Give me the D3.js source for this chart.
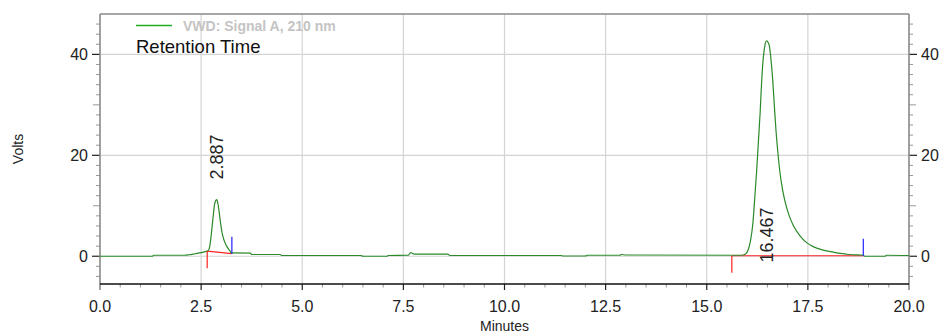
<!DOCTYPE html>
<html><head><meta charset="utf-8">
<script src="https://cdn.jsdelivr.net/npm/d3@7"></script>
<style>
html,body{margin:0;padding:0;background:#fff;}
svg{display:block;font-family:Arial,"Liberation Sans",sans-serif;}
</style></head>
<body><svg id="c" width="942" height="333"></svg>
<script>
// ---- data ----
const times = [0.0,1.3,1.32,2.1,2.2,2.35,2.5,2.62,2.66,2.70,2.74,2.79,2.84,2.887,2.92,2.95,2.98,3.01,3.05,3.09,3.13,3.18,3.22,3.26,3.3,3.72,3.75,4.45,4.5,6.45,6.5,7.1,7.12,7.62,7.68,7.72,7.78,8.6,8.65,11.4,11.45,12.0,12.05,12.85,12.9,13.0,15.85,15.95,16.02,16.08,16.14,16.19,16.23,16.27,16.32,16.36,16.40,16.44,16.48,16.52,16.55,16.59,16.63,16.67,16.71,16.76,16.81,16.87,16.93,17.03,17.14,17.3,17.47,17.6,17.72,17.9,18.13,18.3,18.46,18.6,18.87,18.9,19.4,19.45,20.0];
const volts = [0.0,0.0,0.2,0.2,0.3,0.5,0.7,0.95,1.05,1.5,3.5,7.3,10.6,11.2,10.2,8.5,6.6,5.0,3.6,2.7,2.0,1.4,0.95,0.6,0.65,0.6,0.35,0.35,0.15,0.15,0.0,0.0,0.15,0.2,0.7,0.6,0.4,0.4,0.15,0.15,0.05,0.05,0.2,0.2,0.35,0.25,0.2,0.4,1.2,3.0,6.5,11.9,16.5,21.8,28.5,35.0,39.5,41.9,42.7,42.3,41.6,38.8,35.0,30.0,25.1,20.4,16.6,13.4,11.0,8.2,6.1,4.1,2.7,2.05,1.6,1.15,0.8,0.55,0.4,0.3,0.2,0.0,0.0,0.2,0.15];
const peakTimes = [2.887, 16.467];
const peakLabels = ["2.887", "16.467"];
const peakLabelVolts = [15.2, -1.25];
const baseStartT = [2.65, 15.62];
const baseStartV = [1.0, 0.1];
const baseEndT = [3.26, 18.87];
const baseEndV = [0.5, 0.1];
const xTicks = [0.0,2.5,5.0,7.5,10.0,12.5,15.0,17.5,20.0];
const yTicks = [0,20,40];
const seriesName = "VWD: Signal A, 210 nm";

// ---- layout ----
const svg = d3.select("#c");
const L=100, R=909, T=14, B=284;
const x = d3.scaleLinear().domain([0,20]).range([L,R]);
const y = d3.scaleLinear().domain([-5.5,48]).range([B,T]);

// grid
const g = svg.append("g");
g.selectAll("line.vg").data(xTicks.filter(d=>d>0&&d<20)).join("line")
  .attr("x1",d=>x(d)).attr("x2",d=>x(d)).attr("y1",T).attr("y2",B)
  .attr("stroke","#d4d4d4").attr("stroke-width",1.2);
g.selectAll("line.hg").data(yTicks).join("line")
  .attr("x1",L).attr("x2",R).attr("y1",d=>y(d)).attr("y2",d=>y(d))
  .attr("stroke","#d4d4d4").attr("stroke-width",1.2);

// y minor ticks
const yMinor = d3.range(-4,48,2).filter(v=>yTicks.indexOf(v)<0);
[[L,-1],[R,1]].forEach(([ax,dir])=>{
  svg.selectAll(null).data(yMinor).join("line")
    .attr("x1",ax).attr("x2",d=>ax+dir*(d%10===0?7:4))
    .attr("y1",d=>y(d)).attr("y2",d=>y(d))
    .attr("stroke","#999").attr("stroke-width",1);
  svg.selectAll(null).data(yTicks).join("line")
    .attr("x1",ax).attr("x2",ax+dir*8)
    .attr("y1",d=>y(d)).attr("y2",d=>y(d))
    .attr("stroke","#222").attr("stroke-width",1.2);
});
// frame
svg.append("line").attr("x1",L).attr("x2",R).attr("y1",T).attr("y2",T).attr("stroke","#8a8a8a").attr("stroke-width",1.6);
svg.append("line").attr("x1",L).attr("x2",L).attr("y1",T).attr("y2",B+6).attr("stroke","#8a8a8a").attr("stroke-width",1.6);
svg.append("line").attr("x1",R).attr("x2",R).attr("y1",T).attr("y2",B+6).attr("stroke","#8a8a8a").attr("stroke-width",1.6);

// x minor ticks
const xMinor = d3.range(0,20.01,0.5).filter(v=>Math.abs(v/2.5-Math.round(v/2.5))>1e-6);
svg.selectAll(null).data(xMinor).join("line")
  .attr("x1",d=>x(d)).attr("x2",d=>x(d)).attr("y1",B).attr("y2",B+3.5)
  .attr("stroke","#999").attr("stroke-width",1);
svg.selectAll(null).data(xTicks.filter(d=>d>0&&d<20)).join("line")
  .attr("x1",d=>x(d)).attr("x2",d=>x(d)).attr("y1",B).attr("y2",B+6)
  .attr("stroke","#222").attr("stroke-width",1.2);
svg.append("line").attr("x1",L).attr("x2",R).attr("y1",B).attr("y2",B).attr("stroke","#111").attr("stroke-width",1.4);

// tick labels
svg.selectAll(null).data(xTicks).join("text")
  .attr("x",d=>x(d)).attr("y",311.5).attr("text-anchor","middle")
  .attr("font-size",16).attr("fill","#222").text(d=>d.toFixed(1));
svg.selectAll(null).data(yTicks).join("text")
  .attr("x",88).attr("y",d=>y(d)).attr("dy","0.36em").attr("text-anchor","end")
  .attr("font-size",16).attr("fill","#222").text(d=>d);
svg.selectAll(null).data(yTicks).join("text")
  .attr("x",921).attr("y",d=>y(d)).attr("dy","0.36em").attr("text-anchor","start")
  .attr("font-size",16).attr("fill","#222").text(d=>d);

// axis titles
svg.append("text").attr("x",(L+R)/2).attr("y",331).attr("text-anchor","middle")
  .attr("font-size",14).attr("fill","#222").text("Minutes");
svg.append("text").attr("transform","translate(23,149) rotate(-90)").attr("text-anchor","middle")
  .attr("font-size",14).attr("fill","#222").text("Volts");

// baselines and markers
for(let i=0;i<baseStartT.length;i++){
  svg.append("line").attr("x1",x(baseStartT[i])).attr("x2",x(baseEndT[i]))
    .attr("y1",y(baseStartV[i])).attr("y2",y(baseEndV[i])).attr("stroke","#ff2020").attr("stroke-width",1.2);
}

// trace
const pts = times.map((t,i)=>[t,volts[i]]);
svg.append("path").datum(pts)
  .attr("d",d3.line().x(d=>x(d[0])).y(d=>y(d[1])).curve(d3.curveMonotoneX))
  .attr("fill","none").attr("stroke","#2a8a2a").attr("stroke-width",1.2);

for(let i=0;i<baseStartT.length;i++){
  svg.append("line").attr("x1",x(baseStartT[i])).attr("x2",x(baseStartT[i]))
    .attr("y1",y(baseStartV[i])).attr("y2",y(baseStartV[i])+17).attr("stroke","#ff2020").attr("stroke-width",1.2);
  svg.append("line").attr("x1",x(baseEndT[i])).attr("x2",x(baseEndT[i]))
    .attr("y1",y(baseEndV[i])).attr("y2",y(baseEndV[i])-17).attr("stroke","#2020ff").attr("stroke-width",1.2);
}

// peak labels
peakTimes.forEach((t,i)=>{
  svg.append("text").attr("transform",`translate(${x(t)+6.6},${y(peakLabelVolts[i])}) rotate(-90)`)
    .attr("font-size",18).attr("fill","#222").text(peakLabels[i]);
});

// legend
svg.append("line").attr("x1",136).attr("x2",172).attr("y1",25.5).attr("y2",25.5).attr("stroke","#22aa22").attr("stroke-width",1.4);
svg.append("text").attr("x",183).attr("y",30.5).attr("font-size",14).attr("font-weight","bold").attr("fill","#c4c4c4").text(seriesName);
svg.append("text").attr("x",136).attr("y",52.5).attr("font-size",18.5).attr("fill","#111").text("Retention Time");
</script></body></html>
